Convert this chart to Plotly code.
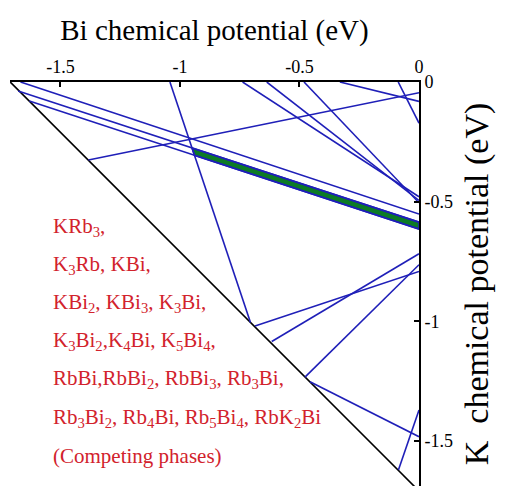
import numpy as np
import plotly.graph_objects as go

# ---------------- data ----------------
bi_tick_vals = [-1.5, -1.0, -0.5, 0.0]
bi_tick_text = ["-1.5", "-1", "-0.5", "0"]
k_tick_vals = [0.0, -0.5, -1.0, -1.5]
k_tick_text = ["0", "-0.5", "-1", "-1.5"]

# boundary of the allowed region: mu_Bi + mu_K = dH
formation_enthalpy = -1.71

# competing-phase limit lines (start / end points in eV)
line_bi_start = [-1.667, -1.677, -1.630, -1.042, -1.383, -0.738, -0.637, -0.481, -0.331, -0.087,
                 -0.686, -0.616, -0.477, -0.456, -0.086]
line_k_start = [0.000, -0.038, -0.0795, 0.000, -0.326, 0.000, 0.000, 0.000, 0.000, 0.000,
                -1.020, -1.085, -1.234, -1.253, -1.622]
line_bi_end = [0.000, 0.000, 0.000, -0.705, 0.000, 0.000, 0.000, 0.000, 0.000, 0.000,
               0.000, 0.000, 0.000, 0.000, 0.000]
line_k_end = [-0.552, -0.586, -0.615, -1.005, -0.045, -0.480, -0.495, -0.505, -0.081, -0.172,
              -0.792, -0.718, -0.764, -1.483, -1.371]

# stable region bounded by these lines (upper, lower, left)
band_upper, band_lower, band_left = 1, 2, 3

phase_text = [
    "KRb<sub>3</sub>,",
    "K<sub>3</sub>Rb, KBi,",
    "KBi<sub>2</sub>, KBi<sub>3</sub>, K<sub>3</sub>Bi,",
    "K<sub>3</sub>Bi<sub>2</sub>,K<sub>4</sub>Bi, K<sub>5</sub>Bi<sub>4</sub>,",
    "RbBi,RbBi<sub>2</sub>, RbBi<sub>3</sub>, Rb<sub>3</sub>Bi,",
    "Rb<sub>3</sub>Bi<sub>2</sub>, Rb<sub>4</sub>Bi, Rb<sub>5</sub>Bi<sub>4</sub>, RbK<sub>2</sub>Bi",
    "(Competing phases)",
]

# ---------------- figure ----------------
BLUE = "#1f1fb8"
GREEN = "#0c7a26"
RED = "#d2222c"
FONT = "Liberation Serif, Times New Roman, serif"


def line_params(i):
    p = np.array([line_bi_start[i], line_k_start[i]])
    q = np.array([line_bi_end[i], line_k_end[i]])
    return p, q - p


def intersect(i, j):
    p, d = line_params(i)
    r, e = line_params(j)
    A = np.array([[d[0], -e[0]], [d[1], -e[1]]])
    t, _ = np.linalg.solve(A, r - p)
    return p + t * d


fig = go.Figure()

# boundary line
fig.add_trace(go.Scatter(x=[formation_enthalpy, 0], y=[0, formation_enthalpy], mode="lines",
                         line=dict(color="black", width=1.6), hoverinfo="skip"))

# green stable band
a = intersect(band_left, band_upper)
b = np.array([line_bi_end[band_upper], line_k_end[band_upper]])
c = np.array([line_bi_end[band_lower], line_k_end[band_lower]])
d = intersect(band_left, band_lower)
fig.add_trace(go.Scatter(x=[a[0], b[0], c[0], d[0], a[0]], y=[a[1], b[1], c[1], d[1], a[1]],
                         mode="lines", fill="toself", fillcolor=GREEN,
                         line=dict(color=BLUE, width=1.6), hoverinfo="skip"))

# phase lines
xs, ys = [], []
for x0, y0, x1, y1 in zip(line_bi_start, line_k_start, line_bi_end, line_k_end):
    xs += [x0, x1, None]
    ys += [y0, y1, None]
fig.add_trace(go.Scatter(x=xs, y=ys, mode="lines", line=dict(color=BLUE, width=1.6),
                         hoverinfo="skip"))

# competing-phases text
for n, t in enumerate(phase_text):
    fig.add_annotation(x=-1.54, y=-0.606 - 0.1594 * n, xref="x", yref="y", text=t,
                       showarrow=False, xanchor="left", yanchor="middle",
                       font=dict(family=FONT, size=21, color=RED))

fig.update_layout(
    width=507, height=486,
    margin=dict(l=10, r=88, t=82, b=0),
    paper_bgcolor="white", plot_bgcolor="white",
    showlegend=False,
    font=dict(family=FONT, color="black"),
    xaxis=dict(
        side="top", range=[-1.711, 0], tickvals=bi_tick_vals, ticktext=bi_tick_text,
        showgrid=False, zeroline=False, showline=True, linecolor="black", linewidth=2,
        ticks="inside", ticklen=5, tickwidth=1.5, tickcolor="black",
        tickfont=dict(family=FONT, size=18, color="black"),
        title=dict(text="Bi chemical potential (eV)", font=dict(family=FONT, size=29),
                   standoff=8),
    ),
    yaxis=dict(
        side="right", range=[-1.689, 0], tickvals=k_tick_vals, ticktext=k_tick_text,
        showgrid=False, zeroline=False, showline=True, linecolor="black", linewidth=2,
        ticks="inside", ticklen=5, tickwidth=1.5, tickcolor="black",
        tickfont=dict(family=FONT, size=18, color="black"),
        title=dict(text="K\u00a0 chemical potential (eV)", font=dict(family=FONT, size=34),
                   standoff=12),
    ),
)

fig.write_html("out.html")
